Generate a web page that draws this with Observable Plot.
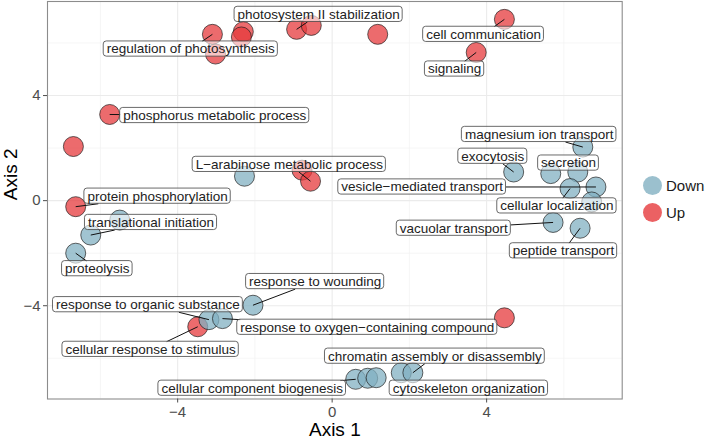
<!DOCTYPE html>
<html>
<head>
<meta charset="utf-8">
<script src="https://cdn.jsdelivr.net/npm/d3@7"></script>
<script src="https://cdn.jsdelivr.net/npm/@observablehq/plot@0.6"></script>
<style>
  body { margin: 0; background: #fff; font-family: "Liberation Sans", Arial, sans-serif; }
  #wrap { position: relative; width: 709px; height: 440px; }
  #legend { position: absolute; left: 643px; top: 172.5px; font-size: 15px; color: #1a1a1a; }
  #legend .row { display: flex; align-items: center; height: 26.7px; }
  #legend .sw { width: 19px; height: 19px; border-radius: 50%; margin-right: 4px; }
</style>
</head>
<body>
<div id="wrap"></div>
<script>
// ---- data ----
const groups = ["Down", "Up"];
const groupColors = ["#82b0c2", "#e6393c"];

const upX = [-3.10, -2.30, -2.35, -3.02, -0.92, -0.54, 1.18, 4.46, 3.73, -5.76, -6.70, -0.78, -0.56, -6.64, -3.48, 4.46];
const upY = [6.33, 6.43, 6.23, 5.58, 6.52, 6.67, 6.33, 6.90, 5.64, 3.28, 2.06, 1.16, 0.74, -0.23, -4.80, -4.46];

const downX = [-2.27, -5.50, -6.25, -6.64, -2.05, -3.19, -2.84, 0.61, 0.92, 1.14, 1.79, 2.09, 6.49, 4.70, 5.66, 6.36, 6.16, 6.83, 6.72, 5.72, 6.42];
const downY = [0.93, -0.74, -1.31, -2.00, -3.98, -4.53, -4.49, -6.80, -6.76, -6.74, -6.55, -6.55, 2.04, 1.09, 1.03, 1.09, 0.46, 0.52, -0.05, -0.83, -1.05];

const labelText = [
  "photosystem II stabilization", "regulation of photosynthesis", "phosphorus metabolic process",
  "L\u2212arabinose metabolic process", "protein phosphorylation", "cell communication", "signaling",
  "cellular response to stimulus", "magnesium ion transport", "exocytosis", "secretion",
  "vesicle\u2212mediated transport", "cellular localization", "translational initiation", "proteolysis",
  "response to wounding", "response to organic substance", "response to oxygen\u2212containing compound",
  "chromatin assembly or disassembly", "cellular component biogenesis", "vacuolar transport",
  "peptide transport", "cytoskeleton organization"
];
const labelX = [-0.35, -3.66, -3.04, -1.11, -4.52, 3.92, 3.17, -4.70, 5.36, 4.16, 6.12, 2.33, 5.82, -4.69, -6.08, -0.44, -4.77, 0.91, 2.66, -2.07, 3.15, 5.99, 3.54];
const labelY = [7.09, 5.77, 3.24, 1.38, 0.17, 6.33, 5.01, -5.66, 2.52, 1.69, 1.43, 0.52, -0.20, -0.83, -2.59, -3.08, -3.96, -4.82, -5.92, -7.14, -1.05, -1.91, -7.14];
const labelGroup = ["Up","Up","Up","Up","Up","Up","Up","Up","Down","Down","Down","Down","Down","Down","Down","Down","Down","Down","Down","Down","Down","Down","Down"];
// index of the labelled point within its group (null: no leader visible)
const labelPoint = [4, 0, 9, 12, 13, 7, 8, 14, 12, 13, 15, 17, 16, 2, 3, 4, 5, 6, 11, 7, 19, 20, null];

const xTicks = [-4, 0, 4];
const yTicks = [-4, 0, 4];
const xMinor = [-6, -2, 2, 6];
const yMinor = [-6, -2, 2, 6];

// ---- layout ----
const W = 709, H = 440;
const mL = 47, mR = 87.3, mT = 1, mB = 41.5;
const xDomain = [-7.37, 7.51];
const yDomain = [-7.55, 7.58];
const kx = (W - mL - mR) / (xDomain[1] - xDomain[0]);
const ky = (H - mT - mB) / (yDomain[1] - yDomain[0]);
const px = (x) => mL + (x - xDomain[0]) * kx;
const py = (y) => mT + (yDomain[1] - y) * ky;
const dxv = (p) => xDomain[0] + (p - mL) / kx;
const dyv = (p) => yDomain[1] - (p - mT) / ky;

// ---- tables ----
const points = [
  ...upX.map((x, i) => ({x, y: upY[i], group: "Up"})),
  ...downX.map((x, i) => ({x, y: downY[i], group: "Down"}))
];

const LABEL_FONT = 13.5;
const canvas = document.createElement("canvas");
const ctx = canvas.getContext("2d");
ctx.font = `${LABEL_FONT}px "Liberation Sans"`;
const padX = 3, halfH = 7.6;

const labels = labelText.map((t, i) => {
  const w = ctx.measureText(t).width;
  const hw = w / 2 + padX;
  let seg = null;
  if (labelPoint[i] !== null) {
    const pt = labelGroup[i] === "Up"
      ? {x: upX[labelPoint[i]], y: upY[labelPoint[i]]}
      : {x: downX[labelPoint[i]], y: downY[labelPoint[i]]};
    const cx = px(labelX[i]), cy = py(labelY[i]);
    const ppx = px(pt.x), ppy = py(pt.y);
    const ddx = ppx - cx, ddy = ppy - cy;
    const s = Math.min(ddx === 0 ? Infinity : hw / Math.abs(ddx), ddy === 0 ? Infinity : halfH / Math.abs(ddy));
    if (s < 1) {
      const ex = cx + s * ddx, ey = cy + s * ddy;
      const len = Math.hypot(ppx - ex, ppy - ey);
      if (len > 5) seg = {x1: pt.x, y1: pt.y, x2: dxv(ex), y2: dyv(ey)};
    }
  }
  return {
    text: t, x: labelX[i], y: labelY[i],
    x1: labelX[i] - hw / kx, x2: labelX[i] + hw / kx,
    y1: labelY[i] - halfH / ky, y2: labelY[i] + halfH / ky,
    seg
  };
});
const segs = labels.filter(d => d.seg).map(d => d.seg);

const chart = Plot.plot({
  width: W, height: H,
  marginLeft: mL, marginRight: mR, marginTop: mT, marginBottom: mB,
  style: {fontFamily: '"Liberation Sans", Arial, sans-serif', background: "#fff"},
  x: {domain: xDomain, label: null},
  y: {domain: yDomain, label: null},
  color: {domain: groups, range: groupColors},
  marks: [
    Plot.gridX(xMinor, {stroke: "#f2f2f2", strokeOpacity: 1, strokeWidth: 0.7}),
    Plot.gridY(yMinor, {stroke: "#f2f2f2", strokeOpacity: 1, strokeWidth: 0.7}),
    Plot.gridX(xTicks, {stroke: "#ebebeb", strokeOpacity: 1, strokeWidth: 1.1}),
    Plot.gridY(yTicks, {stroke: "#ebebeb", strokeOpacity: 1, strokeWidth: 1.1}),
    Plot.dot(points, {x: "x", y: "y", fill: "group", fillOpacity: 0.75, r: 10, stroke: "#1a1a1a", strokeOpacity: 0.75, strokeWidth: 0.9}),
    Plot.link(segs, {x1: "x1", y1: "y1", x2: "x2", y2: "y2", stroke: "#111", strokeWidth: 1}),
    Plot.rect(labels, {x1: "x1", x2: "x2", y1: "y1", y2: "y2", fill: "#fff", fillOpacity: 0.6, stroke: "#444", strokeWidth: 0.8, rx: 3}),
    Plot.text(labels, {x: "x", y: "y", text: "text", fontSize: LABEL_FONT, fill: "#222", textAnchor: "middle", lineAnchor: "middle"}),
    Plot.frame({stroke: "#8c8c8c", strokeWidth: 1.1}),
    Plot.axisX(xTicks, {tickSize: 4, tickPadding: 3, fontSize: 15, color: "#4d4d4d", label: null}),
    Plot.axisY(yTicks, {tickSize: 4, tickPadding: 3, fontSize: 15, color: "#4d4d4d", label: null}),
    Plot.text(["Axis 1"], {frameAnchor: "bottom", lineAnchor: "middle", dy: 30.5, fontSize: 19, fill: "#000"}),
    Plot.text(["Axis 2"], {frameAnchor: "left", dx: -37, rotate: -90, fontSize: 19, fill: "#000"})
  ]
});

const wrap = document.getElementById("wrap");
wrap.appendChild(chart);

// legend (built from the group categories and colours)
const leg = document.createElement("div");
leg.id = "legend";
groups.forEach((g, i) => {
  const row = document.createElement("div");
  row.className = "row";
  const sw = document.createElement("span");
  sw.className = "sw";
  sw.style.background = groupColors[i];
  sw.style.opacity = 0.8;
  const tx = document.createElement("span");
  tx.textContent = g;
  row.append(sw, tx);
  leg.appendChild(row);
});
wrap.appendChild(leg);
</script>
</body>
</html>
